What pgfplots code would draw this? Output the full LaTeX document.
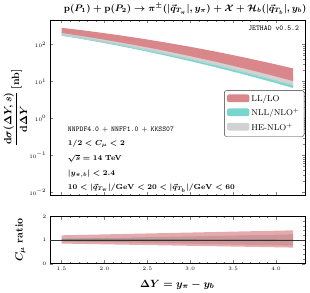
\documentclass[border=0pt]{standalone}
\usepackage{pgfplots}
\pgfplotsset{compat=1.18}
\definecolor{llred}{RGB}{217,135,139}
\definecolor{nllcyan}{RGB}{120,214,206}
\definecolor{hegray}{RGB}{210,210,210}
\begin{document}
\begin{tikzpicture}
\begin{axis}[name=top, scale only axis, width=243pt, height=167pt,
  xmin=1.365, xmax=4.335, ymode=log, ymin=0.0082, ymax=449,
  xtick={1.5,2,2.5,3,3.5,4}, xticklabels={,,}, minor x tick num=4,
  ytick={0.01,0.1,1,10,100},
  tick align=inside,
  tick label style={font=\tiny},
  major tick length=3pt, minor tick length=1.5pt,
  legend style={at={(0.998,0.6)}, anchor=north east, font=\footnotesize, draw=black!80,
    rounded corners=2pt, row sep=1.5pt, inner sep=2.5pt},
  legend cell align=left,
  legend image code/.code={\fill[#1] (0cm,-0.1cm) rectangle (0.75cm,0.16cm);},
]
\addplot[fill=hegray, draw=none, forget plot] coordinates {(1.5,208.9)(1.8,170.2)(2.1,136.1)(2.4,106.4)(2.7,81.3)(3.0,60.7)(3.3,44.4)(3.6,31.6)(3.9,22.2)(4.2,15.1)
 (4.2,7.59)(3.9,11.7)(3.6,17.8)(3.3,26.4)(3.0,38.1)(2.7,54.0)(2.4,74.6)(2.1,101.4)(1.8,134.0)(1.5,173.8)};
\addplot[fill=nllcyan, draw=none, forget plot] coordinates {(1.5,195.0)(1.8,149.3)(2.1,111.7)(2.4,82.0)(2.7,58.7)(3.0,41.1)(3.3,28.2)(3.6,18.9)(3.9,12.4)(4.2,7.94)
 (4.2,6.61)(3.9,10.4)(3.6,16.0)(3.3,24.0)(3.0,35.3)(2.7,50.7)(2.4,71.4)(2.1,98.2)(1.8,131.8)(1.5,173.8)};
\addplot[fill=hegray, fill opacity=0.6, draw=none, forget plot] coordinates {(1.5,208.9)(1.8,170.2)(2.1,136.1)(2.4,106.4)(2.7,81.3)(3.0,60.7)(3.3,44.4)(3.6,31.6)(3.9,22.2)(4.2,15.1)
 (4.2,7.59)(3.9,11.7)(3.6,17.8)(3.3,26.4)(3.0,38.1)(2.7,54.0)(2.4,74.6)(2.1,101.4)(1.8,134.0)(1.5,173.8)};
\addplot[fill=llred, draw=none, forget plot] coordinates {(1.5,281.8)(1.8,232.3)(2.1,187.5)(2.4,147.9)(2.7,114.0)(3.0,86.3)(3.3,63.7)(3.6,45.9)(3.9,32.4)(4.2,22.4)
 (4.2,10.2)(3.9,15.6)(3.6,23.2)(3.3,33.9)(3.0,48.3)(2.7,67.5)(2.4,92.0)(2.1,122.7)(1.8,160.0)(1.5,204.2)};
\addlegendimage{fill=llred, draw=none}
\addlegendentry{LL/LO}
\addlegendimage{fill=nllcyan, draw=none}
\addlegendentry{NLL/NLO$^+$}
\addlegendimage{fill=hegray, draw=none}
\addlegendentry{HE-NLO$^+$}
\end{axis}
\node[anchor=north east, font=\ttfamily\scriptsize] at ([xshift=-2pt,yshift=-2pt]top.north east) {JETHAD v0.5.2};
\node[anchor=base west, font=\scriptsize, inner sep=0pt] at ([xshift=17pt,yshift=61pt]top.south west) {\texttt{NNPDF4.0} $+$ \texttt{NNFF1.0} $+$ \texttt{KKSS07}};
\node[anchor=base west, font=\scriptsize, inner sep=0pt] at ([xshift=17pt,yshift=47.6pt]top.south west) {{\boldmath$1/2 < C_{\mu} < 2$}};
\node[anchor=base west, font=\scriptsize, inner sep=0pt] at ([xshift=17pt,yshift=33.4pt]top.south west) {{\boldmath$\sqrt{s} = 14$ \textbf{TeV}}};
\node[anchor=base west, font=\scriptsize, inner sep=0pt] at ([xshift=17pt,yshift=18.7pt]top.south west) {{\boldmath$\vert y_{\pi,b}\vert < 2.4$}};
\node[anchor=base west, font=\scriptsize, inner sep=0pt] at ([xshift=17pt,yshift=5.3pt]top.south west) {{\boldmath$10 < \vert\vec q_{T_\pi}\vert/\mathbf{GeV} < 20 < \vert\vec q_{T_b}\vert/\mathbf{GeV} < 60$}};
\node[anchor=base, font=\small] at ([xshift=129pt,yshift=8pt]top.north west) {{\boldmath$\mathrm{p}(P_1) + \mathrm{p}(P_2) \to \pi^{\pm}(\vert\vec q_{T_\pi}\vert, y_\pi) + \mathcal{X} + \mathcal{H}_b(\vert\vec q_{T_b}\vert, y_b)$}};
\node[rotate=90, anchor=center] at ([xshift=-33pt]top.west) {{\boldmath$\displaystyle\frac{\mathrm{d}\sigma(\Delta Y, s)}{\mathrm{d}\Delta Y}\,[\mathrm{nb}]$}};
\begin{axis}[name=bot, at={(top.south west)}, anchor=north west, yshift=-20pt,
  scale only axis, width=243pt, height=45pt,
  xmin=1.365, xmax=4.335, ymin=0, ymax=2,
  xtick={1.5,2,2.5,3,3.5,4}, minor x tick num=4,
  ytick={0,1,2}, minor y tick num=4,
  xticklabel style={/pgf/number format/.cd, fixed, fixed zerofill, precision=1},
  tick align=inside,
  tick label style={font=\tiny},
  major tick length=3pt, minor tick length=1.5pt,
]
\addplot[fill=llred!70, draw=none, forget plot] coordinates {(1.5,1.200)(1.8,1.223)(2.1,1.247)(2.4,1.270)(2.7,1.294)(3.0,1.317)(3.3,1.340)(3.6,1.364)(3.9,1.387)(4.2,1.411)
 (4.2,0.680)(3.9,0.699)(3.6,0.718)(3.3,0.737)(3.0,0.755)(2.7,0.774)(2.4,0.793)(2.1,0.812)(1.8,0.831)(1.5,0.850)};
\addplot[fill=llred!80!black, fill opacity=0.35, draw=none, forget plot] coordinates {(1.5,1.05)(1.8,1.071)(2.1,1.092)(2.4,1.113)(2.7,1.134)(3.0,1.155)(3.3,1.176)(3.6,1.197)(3.9,1.218)(4.2,1.239)
 (4.2,0.761)(3.9,0.782)(3.6,0.803)(3.3,0.824)(3.0,0.845)(2.7,0.866)(2.4,0.887)(2.1,0.908)(1.8,0.929)(1.5,0.95)};
\addplot[fill=nllcyan!60!black, fill opacity=0.6, draw=none, forget plot] coordinates {(1.5,1.05)(1.8,1.047)(2.1,1.043)(2.4,1.040)(2.7,1.037)(3.0,1.034)(3.3,1.030)(3.6,1.027)(3.9,1.024)(4.2,1.020)
 (4.2,0.980)(3.9,0.976)(3.6,0.973)(3.3,0.970)(3.0,0.966)(2.7,0.963)(2.4,0.960)(2.1,0.957)(1.8,0.953)(1.5,0.95)};
\addplot[black!80, thin, forget plot] coordinates {(1.365,1)(4.335,1)};
\end{axis}
\node[font=\normalsize, anchor=north] at ([yshift=-12pt]bot.south) {{\boldmath$\Delta Y = y_\pi - y_b$}};
\node[rotate=90, font=\normalsize] at ([xshift=-28pt]bot.west) {{\boldmath$C_\mu$ \textbf{ratio}}};
\end{tikzpicture}
\end{document}
